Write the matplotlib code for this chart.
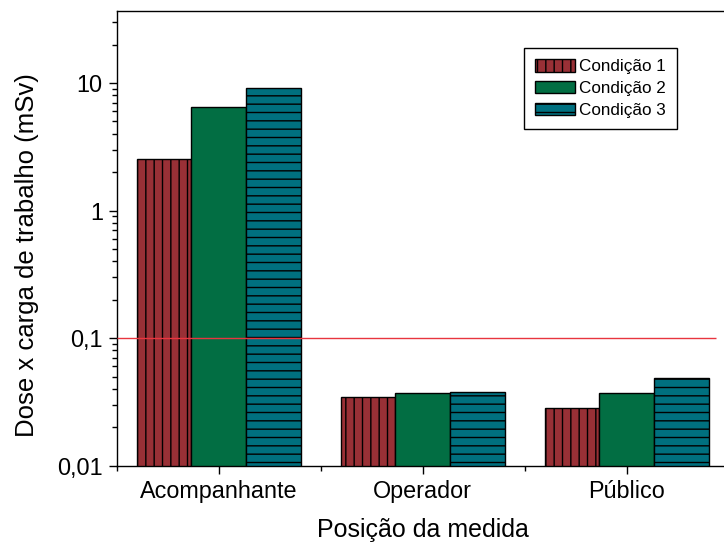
import matplotlib
matplotlib.use("Agg")
import matplotlib.pyplot as plt
import numpy as np
from matplotlib.ticker import FixedLocator, FuncFormatter, LogLocator, NullFormatter

plt.rcParams['font.family'] = ['Liberation Sans', 'DejaVu Sans']
plt.rcParams['hatch.linewidth'] = 1.0

categories = ["Acompanhante", "Operador", "Público"]
series_names = ["Condição 1", "Condição 2", "Condição 3"]
cond1 = [2.55, 0.0338, 0.0272]
cond2 = [6.44, 0.0364, 0.0364]
cond3 = [9.14, 0.0371, 0.0474]
limit_value = 0.1
ytick_values = [0.01, 0.1, 1, 10]
ytick_labels = ["0,01", "0,1", "1", "10"]

colors = ["#993036", "#026e43", "#00707f"]
hatches = ["||", None, "--"]

fig = plt.figure(figsize=(7.24, 5.47), dpi=100)
ax = fig.add_axes([116.7 / 724, 1 - 465.7 / 547, 612 / 724, (465.7 - 10.5) / 547])

x = np.arange(len(categories))
w = 0.268
for i, (vals, name) in enumerate(zip([cond1, cond2, cond3], series_names)):
    ax.bar(x + (i - 1) * w, vals, width=w, bottom=0.001, color=colors[i], edgecolor="black",
           linewidth=1.0, hatch=hatches[i], label=name, zorder=2)

ax.hlines(limit_value, -0.5, 2.436, color="#e8353f", linewidth=1.0, zorder=3)

ax.set_yscale("log")
ax.set_ylim(0.01, 37)
ax.set_xlim(-0.5, 2.5)

def fmt(v, p):
    idx = int(np.argmin([abs(np.log10(t) - np.log10(v)) for t in ytick_values]))
    return ytick_labels[idx]

ax.yaxis.set_major_locator(FixedLocator(ytick_values))
ax.yaxis.set_major_formatter(FuncFormatter(fmt))
ax.yaxis.set_minor_locator(LogLocator(base=10, subs=np.arange(2, 10)))
ax.yaxis.set_minor_formatter(NullFormatter())

ax.set_xticks(x)
ax.set_xticklabels(categories)
ax.set_xticks([-0.5, 0.5, 1.5, 2.5], minor=True)

ax.spines['right'].set_visible(False)
for s in ['left', 'bottom', 'top']:
    ax.spines[s].set_linewidth(1.0)

ax.tick_params(axis='both', which='major', direction='out', length=6, width=1.0, labelsize=16.8, pad=4)
ax.tick_params(axis='both', which='minor', direction='out', length=3.5, width=1.0)
ax.tick_params(axis='x', which='both', top=False)
ax.tick_params(axis='y', which='both', right=False)

ax.set_xlabel("Posição da medida", fontsize=18, labelpad=11)
ax.set_ylabel("Dose x carga de trabalho (mSv)", fontsize=18.5, labelpad=13)
ax.yaxis.label.set_y(0.463)

leg = ax.legend(loc="upper left", bbox_to_anchor=(524 / 724, 1 - 48 / 547), bbox_transform=fig.transFigure,
                borderaxespad=0, fontsize=12.3, frameon=True, fancybox=False, framealpha=1,
                edgecolor="black", handlelength=2.35, handleheight=0.76, handletextpad=0.25,
                labelspacing=0.39, borderpad=0.64)
leg.get_frame().set_linewidth(1.0)

fig.savefig("out.png", dpi=100)
